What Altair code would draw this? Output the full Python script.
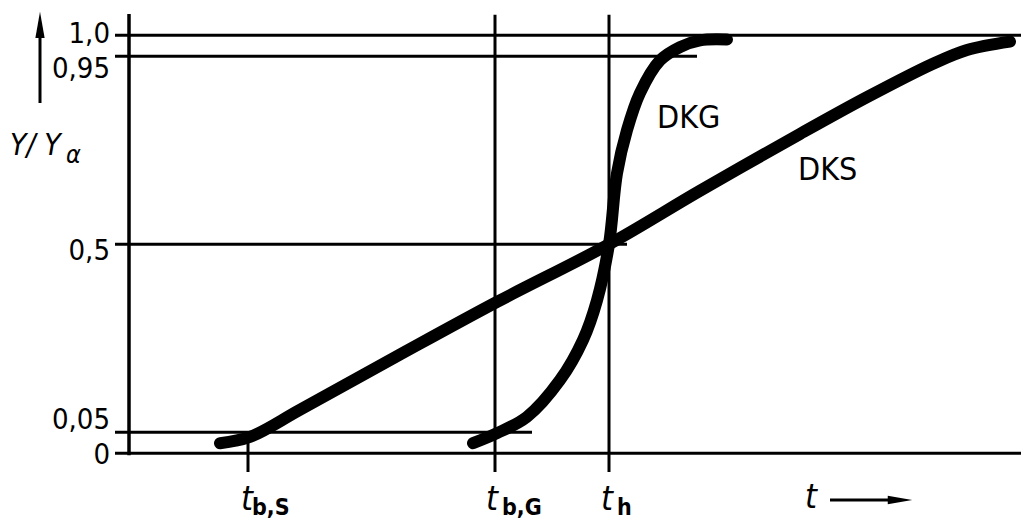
import altair as alt
import pandas as pd

# ---- curve data (t in arbitrary time units, Y/Y_alpha) ----
dks_t = [9.1, 12.1, 17.1, 27.1, 36.8, 48.0, 57.1, 67.1, 73.8, 80.4, 83.8, 88.1]
dks_y = [0.024, 0.039, 0.104, 0.236, 0.362, 0.5, 0.628, 0.764, 0.852, 0.932, 0.965, 0.985]

dkg_t = [34.4, 36.8, 39.8, 43.1, 45.4, 46.8, 48.0, 48.8, 49.8, 51.1, 53.1, 55.1, 57.1, 59.8]
dkg_y = [0.024, 0.048, 0.087, 0.175, 0.271, 0.366, 0.5, 0.670, 0.773, 0.862, 0.940, 0.972, 0.988, 0.990]

# ---- reference levels ----
h_levels = [1.0, 0.95, 0.5, 0.05, 0.0]
h_start = [-1.4, -1.4, -1.4, -1.4, -1.4]
h_end = [89.2, 56.8, 49.8, 40.3, 89.2]

# characteristic times
t_names = ["t_b,S", "t_b,G", "t_h"]
t_marks = [11.9, 36.6, 48.0]
t_top = [0.05, 1.049, 1.049]
t_bottom = [-0.045, -0.045, -0.045]

# y tick labels
ytick_labels = ["1,0", "0,95", "0,5", "0,05", "0"]
ytick_base = [0.982, 0.898, 0.462, 0.0585, -0.0255]

# curve labels
curve_labels = ["DKG", "DKS"]
curve_label_t = [52.8, 66.9]
curve_label_y = [0.778, 0.654]

# time-axis labels (main letter + subscript)
tlab_t = [11.8, 36.3, 47.8]
tlab_sub = ["b,S", "b,G", "h"]
tlab_sub_t = [12.3, 37.3, 48.8]

X_DOM = [-12.9, 89.2]
Y_DOM = [-0.1718, 1.0845]
xs = alt.Scale(domain=X_DOM, nice=False, zero=False)
ys = alt.Scale(domain=Y_DOM, nice=False, zero=False)

FONT = "DejaVu Sans Condensed, DejaVu Sans"

def X(field="t"):
    return alt.X(field, type="quantitative", scale=xs, axis=None)

def Y(field="y"):
    return alt.Y(field, type="quantitative", scale=ys, axis=None)

# curves
curves = pd.DataFrame(
    {"t": dks_t + dkg_t,
     "y": dks_y + dkg_y,
     "c": ["DKS"] * len(dks_t) + ["DKG"] * len(dkg_t)}
)
curve_layer = alt.Chart(curves).mark_line(
    color="black", strokeWidth=12, strokeCap="round", strokeJoin="round", interpolate="catmull-rom"
).encode(x=X(), y=Y(), detail="c:N")

# horizontal reference lines
hdf = pd.DataFrame({"t": h_start, "t2": h_end, "y": h_levels})
h_layer = alt.Chart(hdf).mark_rule(color="black", strokeWidth=3).encode(
    x=X(), x2="t2", y=Y()
)

# vertical axis line
vax = pd.DataFrame({"t": [0.0], "y": [-0.005], "y2": [1.051]})
vax_layer = alt.Chart(vax).mark_rule(color="black", strokeWidth=3.5).encode(
    x=X(), y=Y(), y2="y2"
)

# vertical time marks
vdf = pd.DataFrame({"name": t_names, "t": t_marks, "y": t_bottom, "y2": t_top})
v_layer = alt.Chart(vdf).mark_rule(color="black", strokeWidth=3).encode(
    x=X(), y=Y(), y2="y2"
)

# y tick labels
ytl = pd.DataFrame({"label": ytick_labels, "t": [-1.9] * 5, "y": ytick_base})
ytl_layer = alt.Chart(ytl).mark_text(
    align="right", baseline="alphabetic", font=FONT, fontSize=29, color="black"
).encode(x=X(), y=Y(), text="label:N")

# curve labels
cl = pd.DataFrame({"label": curve_labels, "t": curve_label_t, "y": curve_label_y})
cl_layer = alt.Chart(cl).mark_text(
    align="left", baseline="alphabetic", font=FONT, fontSize=32, color="black"
).encode(x=X(), y=Y(), text="label:N")

# time labels
tl = pd.DataFrame({"label": ["t"] * 3 + ["t"], "t": tlab_t + [68.2], "y": [-0.136] * 3 + [-0.131]})
tl_layer = alt.Chart(tl).mark_text(
    align="center", baseline="alphabetic", font=FONT, fontSize=34, fontStyle="italic", color="black"
).encode(x=X(), y=Y(), text="label:N")

ts = pd.DataFrame({"label": tlab_sub, "t": tlab_sub_t, "y": [-0.148] * 3})
ts_layer = alt.Chart(ts).mark_text(
    align="left", baseline="alphabetic", font=FONT, fontSize=23, fontWeight="bold", color="black"
).encode(x=X(), y=Y(), text="label:N")

# y axis title
yt = pd.DataFrame({"label": ["Y/ Y"], "t": [-11.9], "y": [0.7136]})
yt_layer = alt.Chart(yt).mark_text(
    align="left", baseline="alphabetic", font=FONT, fontSize=30, fontStyle="italic", color="black"
).encode(x=X(), y=Y(), text="label:N")
ya = pd.DataFrame({"label": ["α"], "t": [-6.3], "y": [0.6944]})
ya_layer = alt.Chart(ya).mark_text(
    align="left", baseline="alphabetic", font=FONT, fontSize=25, fontStyle="italic", color="black"
).encode(x=X(), y=Y(), text="label:N")

# arrows
yarr = pd.DataFrame({"t": [-8.9], "y": [0.838], "y2": [1.0]})
yarr_layer = alt.Chart(yarr).mark_rule(color="black", strokeWidth=3).encode(
    x=X(), y=Y(), y2="y2"
)
yhead = pd.DataFrame({"t": [-8.9], "y": [1.025]})
yhead_layer = alt.Chart(yhead).mark_point(
    shape="M0,-1L0.35,1L-0.35,1Z", size=700, filled=True, color="black", opacity=1
).encode(x=X(), y=Y())

tarr = pd.DataFrame({"t": [70.1], "t2": [76.5], "y": [-0.112]})
tarr_layer = alt.Chart(tarr).mark_rule(color="black", strokeWidth=3).encode(
    x=X(), x2="t2", y=Y()
)
thead = pd.DataFrame({"t": [77.1], "y": [-0.112]})
thead_layer = alt.Chart(thead).mark_point(
    shape="M1,0L-1,0.35L-1,-0.35Z", size=600, filled=True, color="black", opacity=1
).encode(x=X(), y=Y())

chart = alt.layer(
    h_layer, vax_layer, v_layer, curve_layer, ytl_layer, cl_layer, tl_layer, ts_layer,
    yt_layer, ya_layer, yarr_layer, yhead_layer, tarr_layer, thead_layer
).properties(
    width=1021, height=525, padding=0, background="white",
    autosize=alt.AutoSizeParams(type="none")
).configure_view(stroke=None)

chart.save("out.html", embed_options={"renderer": "svg", "actions": False})
